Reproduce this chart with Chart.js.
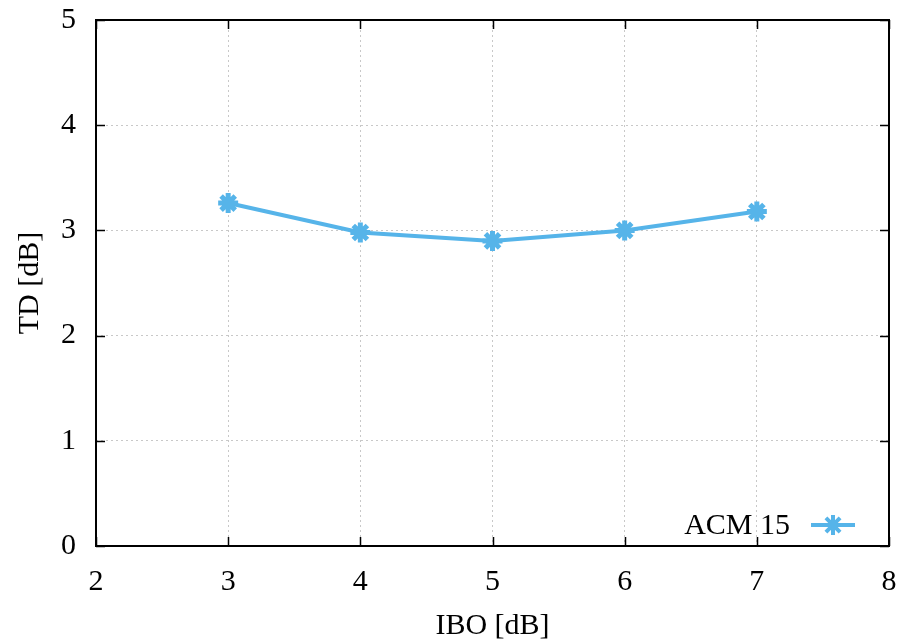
<!DOCTYPE html>
<html><head><meta charset="utf-8">
<script src="https://cdn.jsdelivr.net/npm/chart.js@4/dist/chart.umd.min.js"></script>
<style>html,body{margin:0;padding:0;background:#fff}#wrap{width:904px;height:644px}</style>
</head><body><div id="wrap"><canvas id="c" width="904" height="644"></canvas></div>
<script>
const ibo = [3, 4, 5, 6, 7];
const td = [3.26, 2.98, 2.90, 3.00, 3.18];
const xTicks = [2, 3, 4, 5, 6, 7, 8];
const yTicks = [0, 1, 2, 3, 4, 5];
const seriesName = 'ACM 15';
const FONT = '"Liberation Serif", "Times New Roman", serif';
const COLOR = '#56B4E9';

const frame = {
  id: 'frame',
  afterDatasetsDraw(chart) {
    const {ctx, chartArea: a, scales: {x, y}} = chart;
    ctx.save();
    ctx.strokeStyle = '#000';
    ctx.lineWidth = 1.5;
    const L = 9;
    ctx.beginPath();
    xTicks.forEach(v => {
      const px = Math.round(x.getPixelForValue(v)) + 0.5;
      ctx.moveTo(px, a.bottom); ctx.lineTo(px, a.bottom - L);
      ctx.moveTo(px, a.top); ctx.lineTo(px, a.top + L);
    });
    yTicks.forEach(v => {
      const py = Math.round(y.getPixelForValue(v)) + 0.5;
      ctx.moveTo(a.left, py); ctx.lineTo(a.left + L, py);
      ctx.moveTo(a.right, py); ctx.lineTo(a.right - L, py);
    });
    ctx.stroke();
    ctx.lineWidth = 2;
    ctx.strokeRect(a.left, a.top, a.right - a.left, a.bottom - a.top);
    // legend
    const ly = 525;
    const lineX0 = 811, lineX1 = 855;
    ctx.font = '30px ' + FONT;
    ctx.fillStyle = '#000';
    ctx.textAlign = 'right';
    ctx.textBaseline = 'middle';
    ctx.fillText(seriesName, 790, ly + 1);
    ctx.strokeStyle = COLOR;
    ctx.lineWidth = 4;
    ctx.beginPath(); ctx.moveTo(lineX0, ly); ctx.lineTo(lineX1, ly); ctx.stroke();
    Chart.helpers.drawPoint(ctx, {pointStyle: 'star', radius: 10, borderWidth: 5}, (lineX0 + lineX1) / 2, ly);
    ctx.restore();
  }
};

const noPad = s => { s.paddingLeft = 0; s.paddingRight = 0; s.paddingTop = 0; s.paddingBottom = 0; };

new Chart(document.getElementById('c'), {
  type: 'line',
  data: {
    datasets: [{
      label: seriesName,
      data: ibo.map((v, i) => ({x: v, y: td[i]})),
      borderColor: COLOR,
      backgroundColor: COLOR,
      borderWidth: 4,
      pointStyle: 'star',
      pointRadius: 10,
      pointBorderWidth: 5,
      pointBorderColor: COLOR,
      fill: false,
      tension: 0
    }]
  },
  options: {
    responsive: false,
    animation: false,
    devicePixelRatio: 1,
    layout: {padding: {top: 20, right: 13, left: 0, bottom: 0}},
    plugins: {legend: {display: false}, tooltip: {enabled: false}},
    scales: {
      x: {
        type: 'linear', min: 2, max: 8,
        afterBuildTicks: s => { s.ticks = xTicks.map(v => ({value: v})); },
        afterFit: s => { s.height = 98; noPad(s); },
        grid: {color: '#c8c8c8', lineWidth: 1, drawTicks: false},
        border: {display: false, dash: [2, 3]},
        ticks: {color: '#000', font: {family: FONT, size: 30}, padding: 18, maxRotation: 0},
        title: {display: true, text: 'IBO [dB]', color: '#000', font: {family: FONT, size: 30}, padding: {top: 4, bottom: 0}}
      },
      y: {
        type: 'linear', min: 0, max: 5,
        afterBuildTicks: s => { s.ticks = yTicks.map(v => ({value: v})); },
        afterFit: s => { s.width = 96; noPad(s); },
        grid: {color: '#c8c8c8', lineWidth: 1, drawTicks: false},
        border: {display: false, dash: [2, 3]},
        ticks: {color: '#000', font: {family: FONT, size: 30}, padding: 20},
        title: {display: true, text: 'TD [dB]', color: '#000', font: {family: FONT, size: 30}, padding: {top: 12, bottom: 0}}
      }
    }
  },
  plugins: [frame]
});
</script></body></html>
